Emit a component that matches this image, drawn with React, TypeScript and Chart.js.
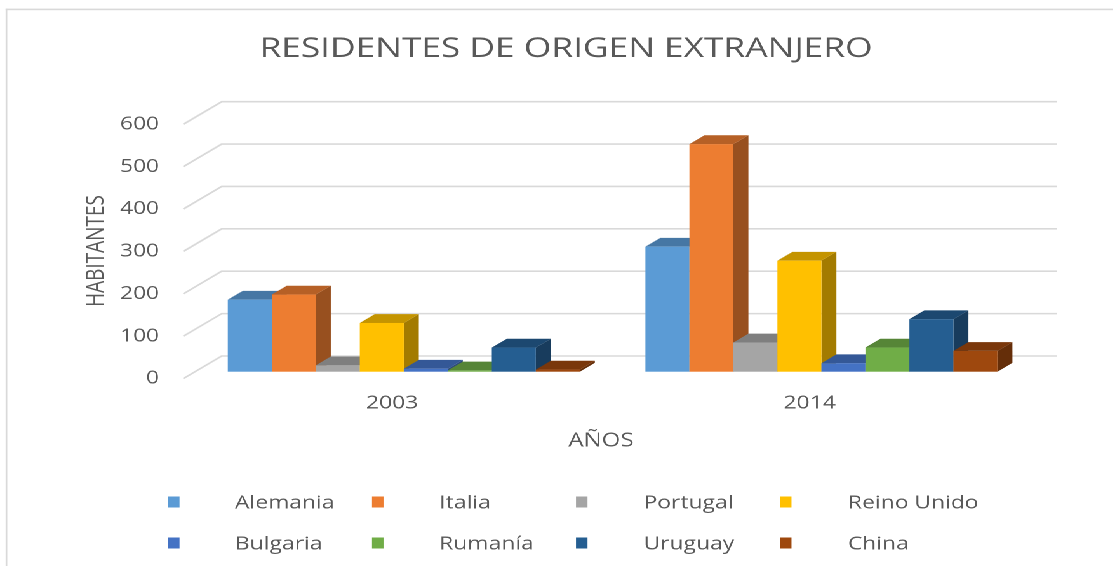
import React, { useEffect, useRef } from "react";
import { Chart, registerables } from "chart.js";

Chart.register(...registerables);

// ---------------- data ----------------
const categories = ["2003", "2014"];
const seriesNames = ["Alemania", "Italia", "Portugal", "Reino Unido", "Bulgaria", "Rumanía", "Uruguay", "China"];
const alemania = [170, 295];
const italia = [182, 537];
const portugal = [15, 69];
const reinoUnido = [115, 262];
const bulgaria = [7, 20];
const rumania = [3, 57];
const uruguay = [57, 124];
const china = [5, 49];
const seriesColors = ["#5B9BD5", "#ED7D31", "#A5A5A5", "#FFC000", "#4472C4", "#70AD47", "#255E91", "#9E480E"];
const yTicks = [0, 100, 200, 300, 400, 500, 600];
const chartTitle = "RESIDENTES DE ORIGEN EXTRANJERO";
const yTitle = "HABITANTES";
const xTitle = "AÑOS";

// ---------------- layout (reference pixels -> canvas units) ----------------
const S = 1.27; // horizontal stretch of the whole picture
const W = 1113 / S;
const H = 566;
const sx = (v: number) => v / S;

const FONT = '"Open Sans", "DejaVu Sans", sans-serif';
const TEXT = "#595959";
const GRID = "#D9D9D9";

const WALL_DX = sx(38.4);
const WALL_DY = -22.6;
const FRONT_DX = sx(11.7);
const FRONT_DY = -6.9;
const DEPTH_DX = sx(15);
const DEPTH_DY = -8.8;
const X_AXIS_H = 40;

function shade(hex: string, f: number) {
  const n = parseInt(hex.slice(1), 16);
  const r = Math.round(((n >> 16) & 255) * f);
  const g = Math.round(((n >> 8) & 255) * f);
  const b = Math.round((n & 255) * f);
  return `rgb(${r},${g},${b})`;
}

const bars3d = {
  id: "bars3d",
  beforeDatasetsDraw(chart: any) {
    const ctx = chart.ctx as CanvasRenderingContext2D;
    const { left, right } = chart.chartArea;
    const y = chart.scales.y;
    ctx.save();
    // back wall grid lines + floor diagonals
    ctx.strokeStyle = GRID;
    ctx.lineWidth = 1.6;
    yTicks.forEach((v) => {
      const py = y.getPixelForValue(v);
      ctx.beginPath();
      ctx.moveTo(left, py);
      ctx.lineTo(left + WALL_DX, py + WALL_DY);
      ctx.lineTo(right + WALL_DX, py + WALL_DY);
      ctx.stroke();
    });
    // 3D bars, painted left to right
    const n = chart.data.datasets.length;
    for (let i = 0; i < categories.length; i++) {
      for (let d = 0; d < n; d++) {
        const el = chart.getDatasetMeta(d).data[i];
        if (!el) continue;
        const p = el.getProps(["x", "y", "base", "width"], true);
        const col = seriesColors[d];
        const xl = p.x - p.width / 2 + FRONT_DX;
        const xr = p.x + p.width / 2 + FRONT_DX;
        const yt = p.y + FRONT_DY;
        const yb = p.base + FRONT_DY;
        // side
        ctx.fillStyle = shade(col, 0.64);
        ctx.beginPath();
        ctx.moveTo(xr, yt);
        ctx.lineTo(xr + DEPTH_DX, yt + DEPTH_DY);
        ctx.lineTo(xr + DEPTH_DX, yb + DEPTH_DY);
        ctx.lineTo(xr, yb);
        ctx.closePath();
        ctx.fill();
        // top
        ctx.fillStyle = shade(col, 0.77);
        ctx.beginPath();
        ctx.moveTo(xl, yt);
        ctx.lineTo(xr, yt);
        ctx.lineTo(xr + DEPTH_DX, yt + DEPTH_DY);
        ctx.lineTo(xl + DEPTH_DX, yt + DEPTH_DY);
        ctx.closePath();
        ctx.fill();
        // front
        ctx.fillStyle = col;
        ctx.fillRect(xl, yt, xr - xl, yb - yt);
      }
    }
    ctx.restore();
    return false;
  },
  afterDraw(chart: any) {
    const ctx = chart.ctx as CanvasRenderingContext2D;
    ctx.save();
    // outer border (top + left)
    ctx.fillStyle = GRID;
    ctx.fillRect(sx(5.6), 8.6, W, 1.6);
    ctx.fillRect(sx(5.6), 8.6, sx(1.7), H);

    ctx.fillStyle = TEXT;
    // title
    ctx.font = `27.8px ${FONT}`;
    ctx.textAlign = "center";
    ctx.textBaseline = "alphabetic";
    ctx.fillText(chartTitle, sx(566), 56.8);

    // x axis title
    ctx.font = `19px ${FONT}`;
    ctx.fillText(xTitle, sx(601), 446.5);

    // y axis title
    ctx.save();
    ctx.translate(sx(103.3), 251);
    ctx.rotate(-Math.PI / 2);
    ctx.font = `19px ${FONT}`;
    ctx.textAlign = "center";
    ctx.textBaseline = "alphabetic";
    ctx.fillText(yTitle, 0, 0);
    ctx.restore();

    // legend
    ctx.font = `18px ${FONT}`;
    ctx.textAlign = "left";
    ctx.textBaseline = "alphabetic";
    seriesNames.forEach((name, k) => {
      const row = Math.floor(k / 4);
      const c = k % 4;
      const cy = 502 + row * 41;
      ctx.fillStyle = seriesColors[k];
      ctx.fillRect(sx(168 + 204 * c), cy - 5.5, sx(11.5), 11);
      ctx.fillStyle = TEXT;
      ctx.fillText(name, sx(235 + 204.3 * c), cy + 6.5);
    });
    ctx.restore();
  },
};

export default function App() {
  const canvasRef = useRef<HTMLCanvasElement | null>(null);

  useEffect(() => {
    if (!canvasRef.current) return;
    const seriesValues = [alemania, italia, portugal, reinoUnido, bulgaria, rumania, uruguay, china];
    const chart = new Chart(canvasRef.current, {
      type: "bar",
      data: {
        labels: categories,
        datasets: seriesNames.map((name, k) => ({
          label: name,
          data: seriesValues[k],
          backgroundColor: seriesColors[k],
          categoryPercentage: 0.843,
          barPercentage: 1,
        })),
      },
      options: {
        responsive: true,
        maintainAspectRatio: false,
        animation: false,
        devicePixelRatio: 2,
        layout: {
          padding: {
            left: 0,
            right: W - sx(1018.5),
            top: 124.3,
            bottom: H - 378.6 - X_AXIS_H,
          },
        },
        plugins: {
          legend: { display: false },
          title: { display: false },
          tooltip: { enabled: false },
        },
        scales: {
          x: {
            grid: { display: false, drawTicks: false },
            border: { display: false },
            ticks: { color: TEXT, font: { family: FONT, size: 18 }, padding: 14 },
            afterFit: (s: any) => {
              s.height = X_AXIS_H;
            },
          },
          y: {
            min: 0,
            max: 600,
            grid: { display: false, drawTicks: false },
            border: { display: false },
            ticks: { color: TEXT, font: { family: FONT, size: 18 }, padding: 19 },
            afterBuildTicks: (s: any) => {
              s.ticks = yTicks.map((v) => ({ value: v }));
            },
            afterFit: (s: any) => {
              s.width = sx(183.3);
            },
          },
        },
      },
      plugins: [bars3d],
    } as any);
    return () => chart.destroy();
  }, []);

  return (
    <div
      style={{
        position: "absolute",
        left: 0,
        top: 0,
        width: `${W}px`,
        height: `${H}px`,
        transform: `scaleX(${S})`,
        transformOrigin: "0 0",
        background: "#fff",
      }}
    >
      <canvas ref={canvasRef} />
    </div>
  );
}
